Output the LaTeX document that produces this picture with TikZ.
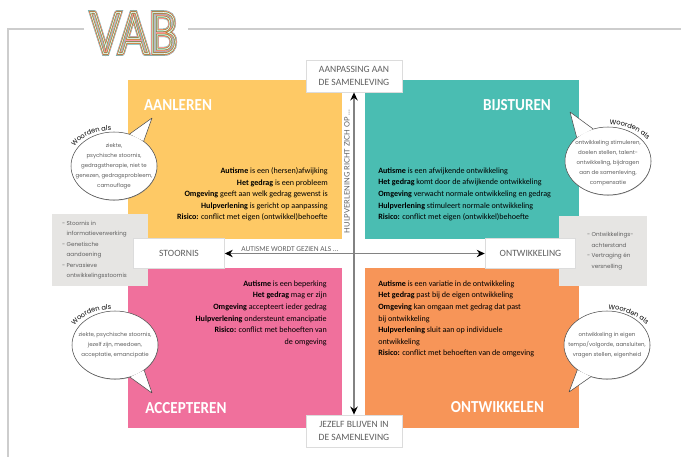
\documentclass[tikz,border=0pt]{standalone}
\usepackage{fontspec}
\usetikzlibrary{arrows.meta, shapes.geometric, decorations.text, shadows}
\setmainfont{Carlito}
\newfontfamily\labelfont{Lato}
\newfontfamily\bubblefont{Poppins}
\newcommand{\bodytext}{\fontsize{6.05}{8.65}\selectfont}
\newcommand{\woordenfont}{\bubblefont\fontsize{5}{5}\selectfont}
\newcommand{\streep}{- }
\newcommand{\inspring}{\phantom{- }}
\definecolor{aanleren}{RGB}{254,201,101}
\definecolor{bijsturen}{RGB}{74,189,178}
\definecolor{accepteren}{RGB}{240,112,156}
\definecolor{ontwikkelen}{RGB}{247,149,88}
\definecolor{grijsvlak}{RGB}{230,229,227}
\definecolor{kader}{RGB}{205,205,205}
\definecolor{tekstgrijs}{RGB}{95,95,95}
\definecolor{pijlgrijs}{RGB}{130,130,130}
\tikzset{
  kwadrant/.style={font=\fontsize{12.6}{14}\selectfont\bfseries, text=white, inner sep=0pt, xscale=0.9},
  uitleg/.style={font=\bodytext, text=black, inner sep=0pt},
  asbox/.style={draw=kader!70, line width=0.6pt, fill=white, font=\fontsize{7.2}{9.3}\selectfont, text=tekstgrijs, align=center},
  vlak/.style={fill=grijsvlak, inner sep=0pt},
  opsomming/.style={font=\bubblefont\fontsize{4.25}{7.9}\selectfont, text=tekstgrijs, align=left, inner sep=0pt, anchor=west},
  ballon/.style={ellipse, draw=black!70, line width=0.4pt, fill=white, minimum width=64.5pt, minimum height=51pt, inner sep=0pt,
    drop shadow={shadow xshift=0.2pt, shadow yshift=-0.5pt, opacity=0.6}},
  ballontekst/.style={inner sep=0pt, align=center, font=\bubblefont\fontsize{4.1}{7.6}\selectfont, text=tekstgrijs},
  staart/.style={draw=black!70, line width=0.4pt, fill=white, line join=round},
  woorden/.style={decorate, decoration={text along path, text align=center, text={|\woordenfont|Woorden als}}},
  aspijl/.style={{Stealth[black, length=6pt, width=5.5pt]}-{Stealth[black, length=6pt, width=5.5pt]}, pijlgrijs, line width=1.3pt}
}
\begin{document}
\begin{tikzpicture}[x=0.75pt, y=-0.75pt]
  \useasboundingbox (0,0) rectangle (681,457);

  % Outer frame, open behind the logo
  \draw[kader, line width=1.5pt] (84,29) -- (8,29) -- (8,457);
  \draw[kader, line width=1.5pt] (188,29) -- (681,29);

  % Logo, thinner strokes on top of wider ones
  \foreach \breedte/\kleur [count=\i] in {3.4/bijsturen, 2.9/accepteren!70, 2.3/ontwikkelen, 1.6/black!45!aanleren, 1.0/bijsturen!60!aanleren, 0.4/white} {
    \node[inner sep=0pt, text=\kleur, xscale=0.78, font=\labelfont\fontsize{43}{45}\selectfont] (vab\i) at (134,33)
      {\special{pdf:code 1 Tr \breedte\space w}VAB\special{pdf:code 0 Tr}};
  }

  % Quadrants - drawn first
  \fill[aanleren] (127.5,80) rectangle (342,239);
  \fill[bijsturen] (365,80) rectangle (578.5,239);
  \fill[accepteren] (127.5,268) rectangle (342,428);
  \fill[ontwikkelen] (365,268) rectangle (578.5,428);

  % Grey side panels
  \node[vlak, minimum width=72pt, minimum height=54pt] (stoornisvlak) at (100,250) {};
  \node[vlak, minimum width=66pt, minimum height=52.5pt] (ontwikkelvlak) at (603,251) {};
  \node[opsomming] (stoornislijst) at ([xshift=7.5pt]stoornisvlak.west)
    {\streep Stoornis in\\\inspring informatieverwerking\\\streep Genetische\\\inspring aandoening\\\streep Pervasieve\\\inspring ontwikkelingsstoornis};
  \node[opsomming] (ontwikkellijst) at ([xshift=21pt]ontwikkelvlak.west)
    {\streep Ontwikkelings-\\\inspring achterstand\\\streep Vertraging én\\\inspring versnelling};

  % Boxes on the axes
  \node[asbox, minimum width=72pt, minimum height=24pt] (aanpassing) at (354,76) {AANPASSING AAN\\DE SAMENLEVING};
  \node[asbox, minimum width=72pt, minimum height=24pt] (jezelf) at (354,431) {JEZELF BLIJVEN IN\\DE SAMENLEVING};
  \node[asbox, minimum width=68pt, minimum height=22pt] (stoornis) at (179,253.5) {STOORNIS};
  \node[asbox, minimum width=68pt, minimum height=22pt] (ontwikkeling) at (530.5,253.5) {ONTWIKKELING};

  % Axes
  \draw[aspijl] (aanpassing) -- (jezelf);
  \draw[aspijl] (stoornis) -- (ontwikkeling);
  \node[font=\fontsize{5.6}{6}\selectfont, text=tekstgrijs, inner sep=0pt] (wordtgezien) at (290,249) {AUTISME WORDT GEZIEN ALS ...};
  \node[font=\labelfont\fontsize{5.6}{6}\selectfont, text=tekstgrijs, inner sep=0pt, rotate=90] (richtzich) at (347,171.5) {HULPVERLENING RICHT ZICH OP ...};

  % Quadrant titles
  \node[kwadrant] (aanlerentitel) at (178,105) {AANLEREN};
  \node[kwadrant] (bijsturentitel) at (517,105) {BIJSTUREN};
  \node[kwadrant] (acceptereninvoer) at (186,408) {ACCEPTEREN};
  \node[kwadrant] (ontwikkelentitel) at (497.5,407) {ONTWIKKELEN};

  % Quadrant texts
  \node[uitleg, align=right, anchor=north east] (aanlerentekst) at (328,167.5)
    {\textbf{Autisme} is een (hersen)afwijking\\\textbf{Het gedrag} is een probleem\\\textbf{Omgeving} geeft aan welk gedrag gewenst is\\\textbf{Hulpverlening} is gericht op aanpassing\\\textbf{Risico:} conflict met eigen (ontwikkel)behoefte};
  \node[uitleg, align=left, anchor=north west] (bijsturentekst) at (378,167.5)
    {\textbf{Autisme} is een afwijkende ontwikkeling\\\textbf{Het gedrag} komt door de afwijkende ontwikkeling\\\textbf{Omgeving} verwacht normale ontwikkeling en gedrag\\\textbf{Hulpverlening} stimuleert normale ontwikkeling\\\textbf{Risico:} conflict met eigen (ontwikkel)behoefte};
  \node[uitleg, align=right, anchor=north east] (acceptertekst) at (327,280.5)
    {\textbf{Autisme} is een beperking\\\textbf{Het gedrag} mag er zijn\\\textbf{Omgeving} accepteert ieder gedrag\\\textbf{Hulpverlening} ondersteunt emancipatie\\\textbf{Risico:} conflict met behoeften van\\de omgeving};
  \node[uitleg, align=left, anchor=north west] (ontwikkeltekst) at (378,280.5)
    {\textbf{Autisme} is een variatie in de ontwikkeling\\\textbf{Het gedrag} past bij de eigen ontwikkeling\\\textbf{Omgeving} kan omgaan met gedrag dat past\\bij ontwikkeling\\\textbf{Hulpverlening} sluit aan op individuele\\ontwikkeling\\\textbf{Risico:} conflict met behoeften van de omgeving};

  % Speech bubbles
  \node[ballon] (ballonaanleren) at (114,166) {};
  \node[ballon] (ballonbijsturen) at (608,161) {};
  \node[ballon] (ballonaccepteren) at (115,345) {};
  \node[ballon] (ballonontwikkelen) at (607,345) {};

  % Tails of the bubbles
  \coordinate (puntaanleren) at (152,118);
  \coordinate (puntbijsturen) at (570,112);
  \coordinate (puntaccepteren) at (152,393);
  \coordinate (puntontwikkelen) at (569,392);
  \path[staart] (ballonaanleren.64) -- (puntaanleren) -- (ballonaanleren.40);
  \path[staart] (ballonbijsturen.115) -- (puntbijsturen) -- (ballonbijsturen.143);
  \path[staart] (ballonaccepteren.-65) -- (puntaccepteren) -- (ballonaccepteren.-41);
  \path[staart] (ballonontwikkelen.243) -- (puntontwikkelen) -- (ballonontwikkelen.220);

  % Bubble texts
  \node[ballontekst] (tekstaanleren) at (ballonaanleren)
    {ziekte,\\psychische stoornis,\\gedragstherapie, niet te\\genezen, gedragsprobleem,\\camouflage};
  \node[ballontekst] (tekstbijsturen) at ([yshift=-1.5pt]ballonbijsturen)
    {ontwikkeling stimuleren,\\doelen stellen, talent-\\ontwikkeling, bijdragen\\aan de samenleving,\\compensatie};
  \node[ballontekst] (tekstaccepteren) at (ballonaccepteren)
    {ziekte, psychische stoornis,\\jezelf zijn, meedoen,\\acceptatie, emancipatie};
  \node[ballontekst] (tekstontwikkelen) at (ballonontwikkelen)
    {ontwikkeling in eigen\\tempo/volgorde, aansluiten,\\vragen stellen, eigenheid};

  % Curved captions on the bubbles
  \path[woorden] (73,149) .. controls (80,137) and (95,130) .. (114,130);
  \path[woorden] (606,124) .. controls (625,124) and (640,131) .. (650,142);
  \path[woorden] (73,328) .. controls (80,317) and (94,309) .. (114,309);
  \path[woorden] (605,309) .. controls (622,309) and (638,316) .. (649,327);
\end{tikzpicture}
\end{document}
